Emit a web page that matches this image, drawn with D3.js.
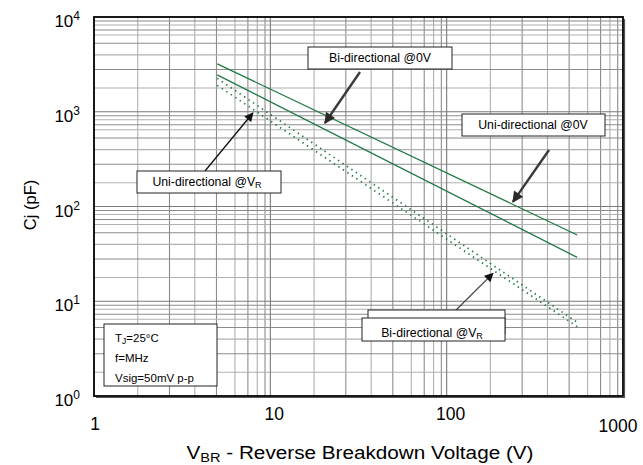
<!DOCTYPE html>
<html>
<head>
<meta charset="utf-8">
<script src="https://cdn.jsdelivr.net/npm/d3@7/dist/d3.min.js"></script>
<style>
  body { margin: 0; background: #fff; }
  svg { display: block; }
  text { font-family: "Liberation Sans", Arial, sans-serif; fill: #000; }
</style>
</head>
<body>
<svg id="chart" width="643" height="465"></svg>
<script>
// Typical junction capacitance vs. reverse breakdown voltage
const voltageRange = [5, 550];           // V_BR at the ends of each curve
const uniZeroBias = [3200, 50];          // pF, uni-directional @0V
const biZeroBias = [2450, 29];           // pF, bi-directional @0V
const uniAtVR = [2250, 6.0];             // pF, uni-directional @V_R
const biAtVR = [1900, 5.4];              // pF, bi-directional @V_R

const xTickValues = [1, 10, 100, 1000];
const xTickLabels = ["1", "10", "100", "1000"];
const yTickExponents = [0, 1, 2, 3, 4];
// grid subdivisions inside one decade
const xGridSteps = [1.77, 2.68, 3.73, 4.95, 6.3, 7.46, 8.43, 9.33];
const yGridSteps = [1.78, 2.79, 3.98, 5.28, 6.46, 7.29, 8.24, 9.08];

const annotations = [
  { label: "Bi-directional @0V", sub: "", tip: [20.4, 761] },
  { label: "Uni-directional @0V", sub: "", tip: [237.5, 112] },
  { label: "Uni-directional @V", sub: "R", tip: [7.96, 970] },
  { label: "Bi-directional @V", sub: "R", tip: [183, 19.7] }
];
const conditions = [["T", "J", "=25°C"], ["f=MHz", "", ""], ["Vsig=50mV p-p", "", ""]];

const svg = d3.select("#chart");
const plot = { left: 94, right: 623, top: 17, bottom: 396 };

const x = d3.scaleLog().domain([1, 1000]).range([plot.left, plot.right]);
const y = d3.scaleLog().domain([1, 10000]).range([plot.bottom, plot.top]);

// ---- grid ----
const grid = svg.append("g");
const xMinor = [], yMinor = [];
[1, 10, 100].forEach(d => xGridSteps.forEach(s => xMinor.push(d * s)));
[1, 10, 100, 1000].forEach(d => yGridSteps.forEach(s => yMinor.push(d * s)));

grid.selectAll(".xm").data(xMinor).join("line")
  .attr("x1", d => x(d)).attr("x2", d => x(d))
  .attr("y1", plot.top).attr("y2", plot.bottom)
  .attr("stroke", (d, i) => i % 2 ? "#8c8c8c" : "#b0b0b0").attr("stroke-width", 1.1);
grid.selectAll(".ym").data(yMinor).join("line")
  .attr("y1", d => y(d)).attr("y2", d => y(d))
  .attr("x1", plot.left).attr("x2", plot.right)
  .attr("stroke", (d, i) => i % 2 ? "#8c8c8c" : "#b0b0b0").attr("stroke-width", 1.1);
grid.selectAll(".xM").data([10, 100]).join("line")
  .attr("x1", d => x(d)).attr("x2", d => x(d))
  .attr("y1", plot.top).attr("y2", plot.bottom)
  .attr("stroke", "#7a7a7a").attr("stroke-width", 1.1);
grid.selectAll(".yM").data([10, 100, 1000]).join("line")
  .attr("y1", d => y(d)).attr("y2", d => y(d))
  .attr("x1", plot.left).attr("x2", plot.right)
  .attr("stroke", "#7a7a7a").attr("stroke-width", 1.1);

// ---- curves ----
const green = "#217a45";
const line = d3.line().x(d => x(d[0])).y(d => y(d[1]));
const curves = [
  { values: uniZeroBias, dash: null },
  { values: biZeroBias, dash: null },
  { values: uniAtVR, dash: "1.4,4" },
  { values: biAtVR, dash: "1.4,4" }
];
svg.append("g").selectAll("path").data(curves).join("path")
  .attr("d", c => line(voltageRange.map((v, i) => [v, c.values[i]])))
  .attr("fill", "none")
  .attr("stroke", green)
  .attr("stroke-width", c => c.dash ? 1.7 : 1.3)
  .attr("stroke-dasharray", c => c.dash);

// ---- frame ----
svg.append("rect")
  .attr("x", plot.left).attr("y", plot.top)
  .attr("width", plot.right - plot.left).attr("height", plot.bottom - plot.top)
  .attr("fill", "none").attr("stroke", "#000").attr("stroke-width", 1.8);
svg.append("path")
  .attr("d", `M${plot.right + 1.5},${plot.top + 2}V${plot.bottom + 1.5}H${plot.left + 2}`)
  .attr("fill", "none").attr("stroke", "#555").attr("stroke-width", 1.2);

// ---- axis labels ----
const yLab = svg.append("g");
yTickExponents.forEach(e => {
  const t = yLab.append("text")
    .attr("x", 80).attr("y", y(Math.pow(10, e)) + 10)
    .attr("text-anchor", "end").attr("font-size", 17);
  t.append("tspan").text("10");
  t.append("tspan").attr("font-size", 12).attr("dy", -7).text(e);
});
const xLabelBaseline = [430, 420, 420, 432];
svg.append("g").selectAll("text").data(xTickValues).join("text")
  .attr("x", d => x(d) + (d === 1 ? 1 : d === 1000 ? -5 : 4))
  .attr("y", (d, i) => xLabelBaseline[i])
  .attr("text-anchor", "middle").attr("font-size", 17.5)
  .text((d, i) => xTickLabels[i]);

const xt = svg.append("text")
  .attr("transform", "translate(360,459) scale(1.12,1)")
  .attr("text-anchor", "middle").attr("font-size", 18.5);
xt.append("tspan").text("V");
xt.append("tspan").attr("font-size", 13).attr("dy", 3).text("BR");
xt.append("tspan").attr("dy", -3).text(" - Reverse Breakdown Voltage (V)");

svg.append("text")
  .attr("transform", "translate(36,205) rotate(-90)")
  .attr("text-anchor", "middle").attr("font-size", 16.5)
  .text("Cj (pF)");

// ---- annotations ----
const defs = svg.append("defs");
defs.append("marker").attr("id", "head").attr("viewBox", "0 0 10 10")
  .attr("refX", 9).attr("refY", 5).attr("markerWidth", 10).attr("markerHeight", 9)
  .attr("markerUnits", "userSpaceOnUse").attr("orient", "auto")
  .append("path").attr("d", "M0,0L10,5L0,10Z").attr("fill", "#111");
defs.append("marker").attr("id", "headThick").attr("viewBox", "0 0 10 10")
  .attr("refX", 9).attr("refY", 5).attr("markerWidth", 12).attr("markerHeight", 11)
  .attr("markerUnits", "userSpaceOnUse").attr("orient", "auto")
  .append("path").attr("d", "M0,0L10,5L0,10Z").attr("fill", "#2a2a2a");

// box geometry for each callout
const layout = [
  { box: [308, 47, 144, 22], from: [360, 72], thick: true, textX: 380, textY: 62 },
  { box: [462, 114, 143, 22], from: [549, 150], thick: true, textX: 533, textY: 129 },
  { box: [137, 171, 144, 22], from: [205, 171], thick: false, textX: 207, textY: 186 },
  { box: [362, 318, 143, 23], from: [448, 318], thick: false, textX: 432, textY: 337, back: [368, 310, 137, 24] }
];

const ann = svg.append("g");
annotations.forEach((a, i) => {
  const L = layout[i];
  const [tx, ty] = [x(a.tip[0]), y(a.tip[1])];
  ann.append("line")
    .attr("x1", L.from[0]).attr("y1", L.from[1])
    .attr("x2", tx).attr("y2", ty)
    .attr("stroke", L.thick ? "#3a3a3a" : (i === 3 ? "#444" : "#111"))
    .attr("stroke-width", L.thick ? 2.4 : 1.3)
    .attr("marker-end", L.thick ? "url(#headThick)" : "url(#head)");
  if (L.back) {
    ann.append("rect").attr("x", L.back[0]).attr("y", L.back[1])
      .attr("width", L.back[2]).attr("height", L.back[3])
      .attr("fill", "#fff").attr("stroke", "#222").attr("stroke-width", 1);
  }
  ann.append("rect").attr("x", L.box[0]).attr("y", L.box[1])
    .attr("width", L.box[2]).attr("height", L.box[3])
    .attr("fill", "#fff").attr("stroke", "#222").attr("stroke-width", 1);
  const t = ann.append("text").attr("x", L.textX).attr("y", L.textY)
    .attr("text-anchor", "middle").attr("font-size", 12.3);
  t.append("tspan").text(a.label);
  if (a.sub) t.append("tspan").attr("font-size", 9).attr("dy", 2).text(a.sub);
});

// ---- test conditions ----
ann.append("rect").attr("x", 104).attr("y", 324).attr("width", 113).attr("height", 62)
  .attr("fill", "#fff").attr("stroke", "#222").attr("stroke-width", 1);
conditions.forEach((c, i) => {
  const t = ann.append("text").attr("x", 115).attr("y", 342 + i * 20).attr("font-size", 11.5);
  t.append("tspan").text(c[0]);
  if (c[1]) {
    t.append("tspan").attr("font-size", 8.5).attr("dy", 2).text(c[1]);
    t.append("tspan").attr("dy", -2).text(c[2]);
  }
});
</script>
</body>
</html>
